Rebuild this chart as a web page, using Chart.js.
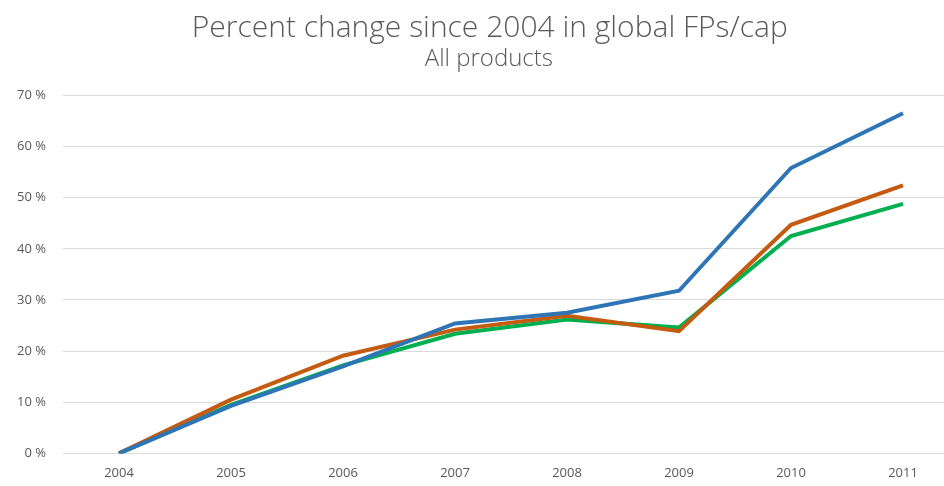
<!DOCTYPE html>
<html>
<head>
<meta charset="utf-8">
<script src="https://cdn.jsdelivr.net/npm/chart.js@4/dist/chart.umd.min.js"></script>
<style>
html,body{margin:0;padding:0;background:#fff;overflow:hidden;width:944px;height:486px;}
#wrap{position:absolute;left:0;top:0;width:978px;height:493px;}
</style>
</head>
<body>
<div id="wrap"><canvas id="c" width="978" height="493"></canvas></div>
<script>
const years = ['2004','2005','2006','2007','2008','2009','2010','2011'];
const blueSeries = [0, 9.3, 17.0, 25.4, 27.5, 31.8, 55.8, 66.5];
const orangeSeries = [0, 10.5, 19.1, 24.2, 26.9, 23.9, 44.7, 52.4];
const greenSeries = [0, 9.5, 17.2, 23.4, 26.2, 24.6, 42.5, 48.8];
const yTicks = [0, 10, 20, 30, 40, 50, 60, 70];

new Chart(document.getElementById('c'), {
  type: 'line',
  data: {
    labels: years,
    datasets: [
      {label: 'Series 3', data: greenSeries, borderColor: '#00B050', borderWidth: 4, pointRadius: 0, tension: 0, order: 3},
      {label: 'Series 2', data: orangeSeries, borderColor: '#C55A11', borderWidth: 4, pointRadius: 0, tension: 0, order: 2},
      {label: 'Series 1', data: blueSeries, borderColor: '#2E75B6', borderWidth: 4, pointRadius: 0, tension: 0, order: 1}
    ]
  },
  options: {
    responsive: false,
    animation: false,
    layout: {padding: {left: 0, right: 19, top: 0, bottom: 0}},
    plugins: {
      legend: {display: false},
      tooltip: {enabled: false},
      title: {display: true, text: '\u00a0\u00a0\u2009Percent change since 2004 in global FPs/cap', color: '#595959',
        font: {family: 'Open Sans', size: 30, weight: '300', lineHeight: 1.1}, padding: {top: 12, bottom: 1}},
      subtitle: {display: true, text: '\u00a0\u00a0\u00a0All products', color: '#595959',
        font: {family: 'Open Sans', size: 24, weight: '300', lineHeight: 1.1}, padding: {top: 0, bottom: 23}}
    },
    scales: {
      x: {
        type: 'category', offset: true,
        grid: {display: false, drawTicks: false},
        border: {display: true, color: '#D9D9D9', width: 1},
        ticks: {color: '#595959', font: {family: 'Open Sans', size: 13}, padding: 12, maxRotation: 0}
      },
      y: {
        min: 0, max: 70,
        afterBuildTicks: (s) => { s.ticks = yTicks.map(v => ({value: v})); },
        afterFit: (s) => { s.width = 63; },
        grid: {color: '#D9D9D9', lineWidth: 1, drawTicks: false},
        border: {display: false},
        ticks: {color: '#595959', font: {family: 'Open Sans', size: 13}, padding: 17,
          callback: (v) => v + ' %'}
      }
    }
  }
});
</script>
</body>
</html>
